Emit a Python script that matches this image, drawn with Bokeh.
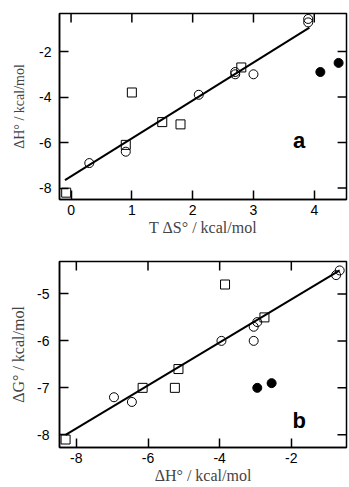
from bokeh.plotting import figure
from bokeh.layouts import column
from bokeh.models import LinearAxis, FixedTicker, Range1d, Label
from bokeh.embed import file_html
from bokeh.resources import INLINE

# ---------------- data: panel a ----------------
a_circ_x = [0.3, 0.9, 2.1, 2.7, 2.7, 3.0, 3.9, 3.9]
a_circ_y = [-6.9, -6.4, -3.9, -2.9, -3.0, -3.0, -0.57, -0.72]
a_sq_x = [-0.08, 0.9, 1.0, 1.5, 1.8, 2.8]
a_sq_y = [-8.2, -6.1, -3.8, -5.1, -5.2, -2.7]
a_fill_x = [4.1, 4.4]
a_fill_y = [-2.9, -2.5]
a_fit_x = [-0.1, 3.92]
a_fit_y = [-7.65, -0.95]
a_xticks = [0, 1, 2, 3, 4]
a_yticks = [-8, -6, -4, -2]

# ---------------- data: panel b ----------------
b_circ_x = [-6.95, -6.45, -3.95, -3.05, -3.05, -2.95, -0.75, -0.65]
b_circ_y = [-7.2, -7.3, -6.0, -6.0, -5.7, -5.6, -4.6, -4.5]
b_sq_x = [-8.3, -6.15, -5.15, -5.25, -3.85, -2.75]
b_sq_y = [-8.1, -7.0, -6.6, -7.0, -4.8, -5.5]
b_fill_x = [-2.95, -2.55]
b_fill_y = [-7.0, -6.9]
b_fit_x = [-8.3, -0.65]
b_fit_y = [-8.0, -4.5]
b_xticks = [-8, -6, -4, -2]
b_yticks = [-8, -7, -6, -5]

SANS = "Liberation Sans"
SERIF = "Liberation Serif"
TICK_LEN = 9  # px, inward


def style_axis(ax, ticks, standoff=6):
    ax.ticker = FixedTicker(ticks=ticks)
    ax.major_label_overrides = {t: str(t) for t in ticks}
    ax.axis_line_color = "black"
    ax.axis_line_width = 1.5
    ax.major_tick_line_color = "black"
    ax.major_tick_line_width = 1.5
    ax.major_tick_in = TICK_LEN
    ax.major_tick_out = 0
    ax.minor_tick_line_color = None
    ax.major_label_text_font = SANS
    ax.major_label_text_font_size = "14px"
    ax.major_label_text_color = "black"
    ax.major_label_standoff = standoff


def make_panel(width, height, xr, yr, xt, yt, xlabel, ylabel, xlabel_size, ylabel_size,
               borders, left_standoff, ylab_standoff):
    p = figure(width=width, height=height, x_range=Range1d(*xr), y_range=Range1d(*yr),
               output_backend="svg", toolbar_location=None,
               min_border_left=borders[0], min_border_right=borders[1],
               min_border_top=borders[2], min_border_bottom=borders[3])
    p.xgrid.visible = False
    p.ygrid.visible = False
    p.outline_line_color = "black"
    p.outline_line_width = 1.5
    p.background_fill_color = "white"
    p.border_fill_color = "white"

    xa = p.xaxis[0]
    ya = p.yaxis[0]
    style_axis(xa, xt, standoff=5)
    style_axis(ya, yt, standoff=left_standoff)
    xa.axis_label = xlabel
    xa.axis_label_text_font = SERIF
    xa.axis_label_text_font_size = xlabel_size
    xa.axis_label_text_font_style = "normal"
    xa.axis_label_standoff = 1
    ya.axis_label = ylabel
    ya.axis_label_text_font = SERIF
    ya.axis_label_text_font_size = ylabel_size
    ya.axis_label_text_font_style = "normal"
    ya.axis_label_standoff = ylab_standoff

    # tick marks on the top and right edges of the frame (inward, no labels)
    fw = width - borders[0] - borders[1]
    fh = height - borders[2] - borders[3]
    dy = TICK_LEN * (yr[1] - yr[0]) / fh
    dx = TICK_LEN * (xr[1] - xr[0]) / fw
    p.segment(x0=xt, y0=[yr[1]] * len(xt), x1=xt, y1=[yr[1] - dy] * len(xt),
              line_color="black", line_width=1.5)
    p.segment(x0=[xr[1]] * len(yt), y0=yt, x1=[xr[1] - dx] * len(yt), y1=yt,
              line_color="black", line_width=1.5)
    return p


pa = make_panel(349, 240, (-0.19, 4.53), (-8.5, -0.33), a_xticks, a_yticks,
                "T \u0394S\u00b0 / kcal/mol", "\u0394H\u00b0 / kcal/mol", "16px", "14px",
                (56, 2, 13, 41), 8, 9)
pa.line(a_fit_x, a_fit_y, line_color="black", line_width=2)
pa.scatter(a_circ_x, a_circ_y, marker="circle", size=9, fill_color=None,
           line_color="black", line_width=1)
pa.scatter(a_sq_x, a_sq_y, marker="square", size=9, fill_color=None,
           line_color="black", line_width=1)
pa.scatter(a_fill_x, a_fill_y, marker="circle", size=9, fill_color="black",
           line_color="black", line_width=1)
pa.add_layout(Label(x=3.75, y=-5.91, text="a", text_font=SANS, text_font_size="22px",
                    text_font_style="bold", text_align="center",
                    text_baseline="alphabetic", text_color="black"))

pb = make_panel(349, 247, (-8.47, -0.46), (-8.27, -4.31), b_xticks, b_yticks,
                "\u0394H\u00b0 / kcal/mol", "\u0394G\u00b0 / kcal/mol", "16px", "16px",
                (59, 3, 21, 40), 10, 7)
pb.line(b_fit_x, b_fit_y, line_color="black", line_width=2)
pb.scatter(b_circ_x, b_circ_y, marker="circle", size=9, fill_color=None,
           line_color="black", line_width=1)
pb.scatter(b_sq_x, b_sq_y, marker="square", size=9, fill_color=None,
           line_color="black", line_width=1)
pb.scatter(b_fill_x, b_fill_y, marker="circle", size=9, fill_color="black",
           line_color="black", line_width=1)
pb.add_layout(Label(x=-1.78, y=-7.69, text="b", text_font=SANS, text_font_size="22px",
                    text_font_style="bold", text_align="center",
                    text_baseline="alphabetic", text_color="black"))

layout = column(pa, pb, spacing=0)
open("out.html", "w").write(file_html(layout, INLINE))
